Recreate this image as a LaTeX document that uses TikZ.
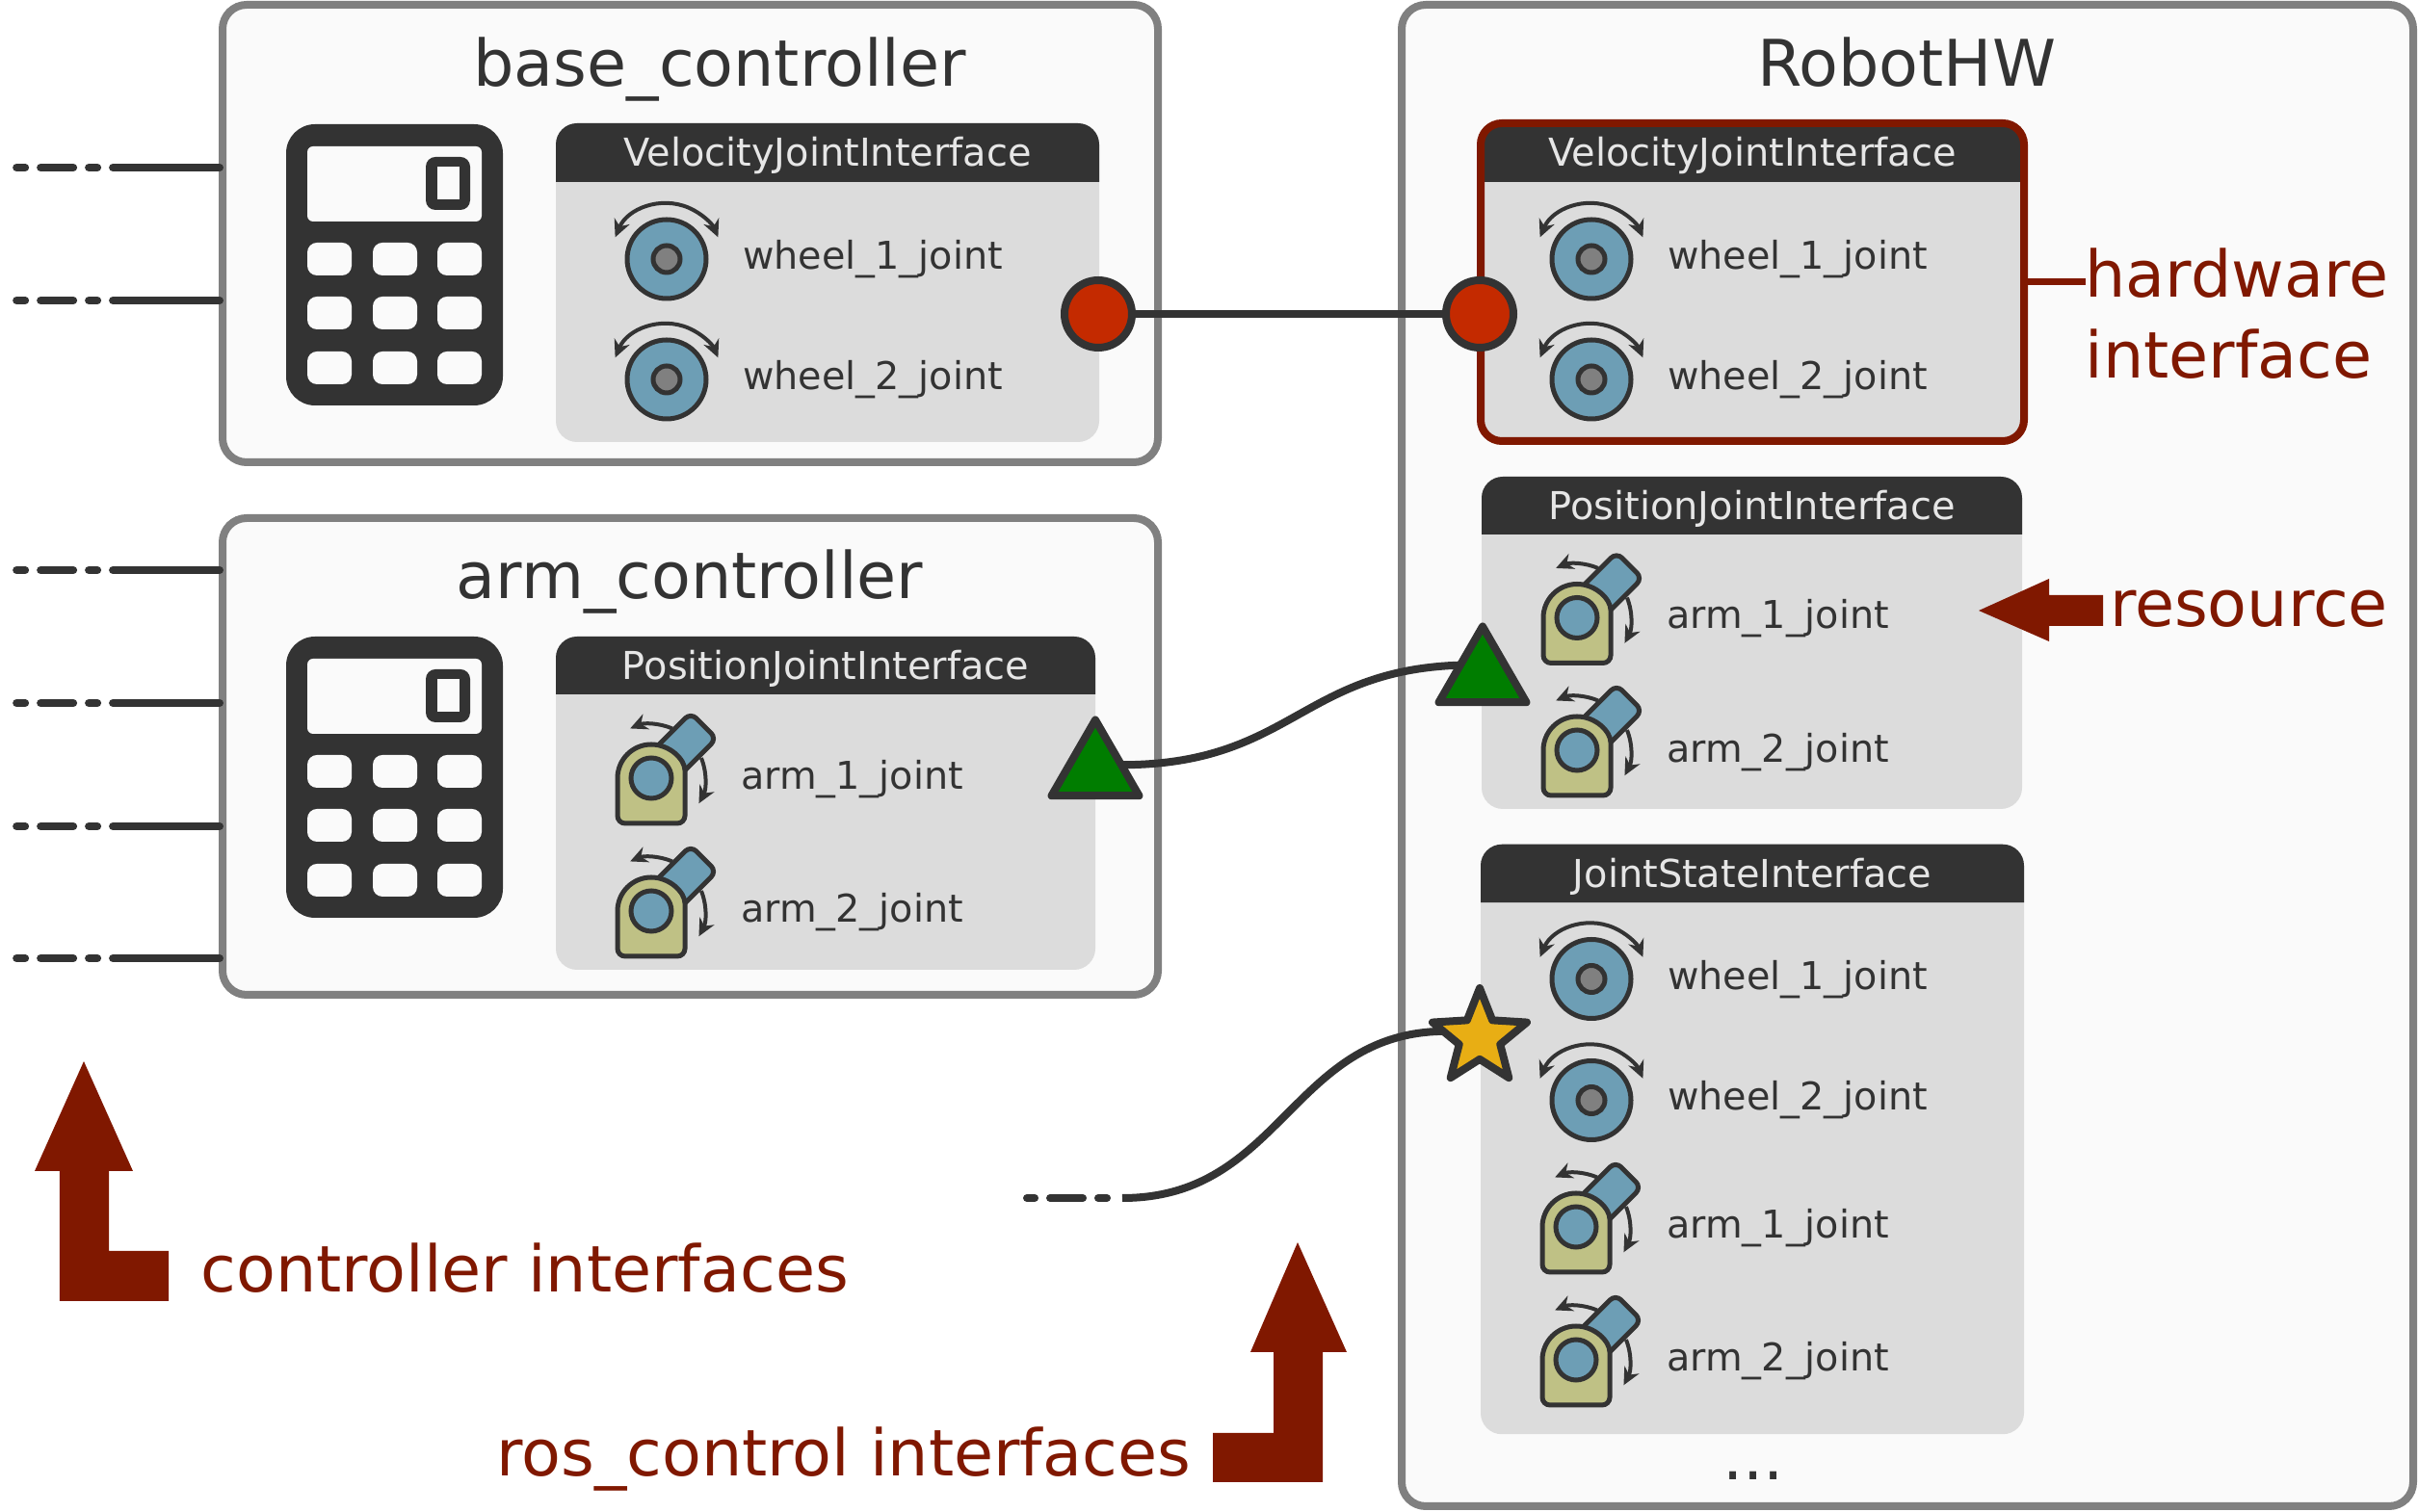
\documentclass[tikz,border=0pt]{standalone}
\usepackage{fontspec}
\setmainfont{DejaVu Sans}
\usetikzlibrary{arrows.meta,calc,shapes.geometric}

\definecolor{darkline}{HTML}{333333}
\definecolor{boxgray}{HTML}{808080}
\definecolor{boxfill}{HTML}{FAFAFA}
\definecolor{panelgray}{HTML}{DCDCDC}
\definecolor{headtext}{HTML}{E6E6E6}
\definecolor{notered}{HTML}{801800}
\definecolor{jointblue}{HTML}{6D9EB5}
\definecolor{armbody}{HTML}{BFC185}
\definecolor{portred}{HTML}{C42A00}
\definecolor{portgreen}{HTML}{007D00}
\definecolor{portyellow}{HTML}{E8AE14}

\tikzset{
  ctrlbox/.style={draw=boxgray, fill=boxfill, line width=.08cm, rounded corners=.25cm, inner sep=0pt, outer sep=0pt},
  ifacepanel/.style={fill=panelgray, rounded corners=.22cm, inner sep=0pt, outer sep=0pt},
  hwframe/.style={draw=notered, line width=.08cm, rounded corners=.22cm, inner sep=0pt, outer sep=0pt},
  boxtitle/.style={anchor=base, text=darkline, font=\fontsize{19}{24}\selectfont},
  headtitle/.style={anchor=base, text=headtext, font=\fontsize{11.35}{14}\selectfont},
  jointlabel/.style={anchor=base west, text=darkline, inner sep=0pt, font=\fontsize{11.3}{14}\selectfont},
  rednote/.style={text=notered, inner sep=0pt, outer sep=0pt, font=\fontsize{19}{23.9}\selectfont},
  porta/.style={circle, draw=darkline, fill=portred, line width=.08cm, minimum size=.70cm, inner sep=0pt, outer sep=0pt},
  portb/.style={regular polygon, regular polygon sides=3, draw=darkline, fill=portgreen, line width=.08cm, line join=round, minimum size=1.05cm, inner sep=0pt, outer sep=0pt},
  portc/.style={star, star points=5, star point ratio=2.3, draw=darkline, fill=portyellow, line width=.08cm, line join=round, minimum size=1.03cm, inner sep=0pt, outer sep=0pt},
  wire/.style={draw=darkline, line width=.08cm},
  stub/.style={draw=darkline, line width=.08cm, line cap=round, dash pattern=on 31.55pt off 4.55pt on 2.56pt off 4.55pt on 9.67pt off 4.55pt on 2.56pt off 200pt},
  jointline/.style={draw=darkline, line width=.05cm},
  moveline/.style={draw=darkline, line width=.04cm, {Stealth[length=.18cm,width=.17cm]}-{Stealth[length=.18cm,width=.17cm]}},
  moveend/.style={draw=darkline, line width=.04cm, -{Stealth[length=.18cm,width=.17cm]}},
  wheeljoint/.pic={
    \draw[jointline, fill=jointblue] (0,0) circle (.41);
    \draw[jointline, fill=boxgray] (0,0) circle (.14);
    \draw[moveline] (157:.58) arc[start angle=157, end angle=23, radius=.58];
  },
  armjoint/.pic={
    \draw[jointline, fill=jointblue, rotate=45, rounded corners=.08cm] (0,-.19) rectangle (.77,.19);
    \draw[jointline, fill=armbody, rounded corners=.08cm] (-.35,0) -- (-.35,-.47) -- (.35,-.47) -- (.35,0) [sharp corners] arc[start angle=0, end angle=180, radius=.35] -- cycle;
    \draw[jointline, fill=jointblue] (0,0) circle (.21);
    \draw[moveend] (67:.56) arc[start angle=67, end angle=113, radius=.56];
    \draw[moveend] (22:.56) arc[start angle=22, end angle=-28, radius=.56];
  },
  calculator/.pic={
    \fill[darkline, rounded corners=.3cm] (0,0) rectangle (2.25,-2.92);
    \fill[boxfill, rounded corners=.06cm] (.22,-.23) rectangle (2.03,-1.01);
    \fill[darkline, rounded corners=.1cm] (1.45,-.34) rectangle (1.91,-.89);
    \fill[boxfill] (1.57,-.44) rectangle (1.80,-.78);
    \foreach \kx in {.22,.90,1.57}
      \foreach \ky in {-1.23,-1.79,-2.36}
        \fill[boxfill, rounded corners=.1cm] (\kx,\ky) rectangle +(.46,-.34);
  },
}

\newcommand{\ifacehead}[4]{%
  \fill[darkline] (#2.west |- {$(#2.north)+(0,-#3)$}) [rounded corners=.22cm] -- (#2.north west) -- (#2.north east) [sharp corners] -- (#2.east |- {$(#2.north)+(0,-#3)$}) -- cycle;
  \node (#1) [headtitle] at ([yshift=-.45cm]#2.north) {#4};
}

\begin{document}
\begin{tikzpicture}
  \useasboundingbox (0,0) rectangle (25.10,15.70);

  % controllers
  \node (base) [ctrlbox, minimum width=9.71cm, minimum height=4.75cm] at (7.165,13.275) {};
  \node (arm) [ctrlbox, minimum width=9.71cm, minimum height=4.95cm] at (7.165,7.845) {};
  \node (robot) [ctrlbox, minimum width=10.50cm, minimum height=15.59cm] at (19.80,7.855) {};

  \node (base title) [boxtitle] at (7.47,14.805) {base\_controller};
  \node (arm title) [boxtitle] at (7.16,9.485) {arm\_controller};
  \node (robot title) [boxtitle] at (19.79,14.805) {RobotHW};

  \pic at (2.97,14.41) {calculator};
  \pic at (2.97,9.09) {calculator};

  % interfaces of the controllers
  \node (base vel) [ifacepanel, minimum width=5.64cm, minimum height=3.31cm] at (8.59,12.765) {};
  \ifacehead{base vel head}{base vel}{.61}{VelocityJointInterface}
  \node (arm pos) [ifacepanel, minimum width=5.60cm, minimum height=3.46cm] at (8.57,7.36) {};
  \ifacehead{arm pos head}{arm pos}{.60}{PositionJointInterface}

  \pic at (6.92,13.01) {wheeljoint};
  \pic at (6.92,11.76) {wheeljoint};
  \node (base w1) [jointlabel] at (7.705,12.905) {wheel\_1\_joint};
  \node (base w2) [jointlabel] at (7.705,11.655) {wheel\_2\_joint};
  \pic at (6.76,7.62) {armjoint};
  \pic at (6.76,6.24) {armjoint};
  \node (arm a1) [jointlabel] at (7.685,7.505) {arm\_1\_joint};
  \node (arm a2) [jointlabel] at (7.685,6.125) {arm\_2\_joint};

  % interfaces of the robot
  \node (hw vel) [ifacepanel, minimum width=5.64cm, minimum height=3.30cm] at (18.19,12.77) {};
  \ifacehead{hw vel head}{hw vel}{.61}{VelocityJointInterface}
  \node (hw frame) [hwframe, minimum width=5.64cm, minimum height=3.30cm] at (18.19,12.77) {};
  \node (hw pos) [ifacepanel, minimum width=5.61cm, minimum height=3.45cm] at (18.185,9.025) {};
  \ifacehead{hw pos head}{hw pos}{.60}{PositionJointInterface}
  \node (hw state) [ifacepanel, minimum width=5.64cm, minimum height=6.125cm] at (18.19,3.87) {};
  \ifacehead{hw state head}{hw state}{.605}{JointStateInterface}

  \pic at (16.52,13.01) {wheeljoint};
  \pic at (16.52,11.76) {wheeljoint};
  \node (vel w1) [jointlabel] at (17.305,12.905) {wheel\_1\_joint};
  \node (vel w2) [jointlabel] at (17.305,11.655) {wheel\_2\_joint};
  \pic at (16.37,9.285) {armjoint};
  \pic at (16.37,7.91) {armjoint};
  \node (pos a1) [jointlabel] at (17.295,9.175) {arm\_1\_joint};
  \node (pos a2) [jointlabel] at (17.295,7.785) {arm\_2\_joint};
  \pic at (16.52,5.535) {wheeljoint};
  \pic at (16.52,4.275) {wheeljoint};
  \node (state w1) [jointlabel] at (17.305,5.425) {wheel\_1\_joint};
  \node (state w2) [jointlabel] at (17.305,4.175) {wheel\_2\_joint};
  \pic at (16.36,2.96) {armjoint};
  \pic at (16.36,1.58) {armjoint};
  \node (state a1) [jointlabel] at (17.295,2.845) {arm\_1\_joint};
  \node (state a2) [jointlabel] at (17.295,1.465) {arm\_2\_joint};
  \node (state more) [boxtitle] at (18.20,.33) {...};

  % connections
  \node (base port) [porta] at (11.40,12.44) {};
  \node (vel port) [porta] at (15.36,12.44) {};
  \node (arm port) [portb] at (11.37,7.70) {};
  \node (pos port) [portb] at (15.39,8.67) {};
  \node (state port) [portc] at (15.36,4.925) {};

  \coordinate (jfree) at (11.65,3.26);
  \coordinate (jfree end) at (10.66,3.26);

  \draw[wire] (base port.east) -- (vel port.west);
  \draw[wire] (arm port.12) .. controls (13.40,7.76) and (13.50,8.74) .. (pos port.152);
  \draw[wire] (jfree) .. controls (13.30,3.26) and (13.40,4.97) .. (state port.170);
  \draw[stub, dash phase=31.55pt] (jfree) -- (jfree end);

  \coordinate (in1) at (.17,13.96);
  \coordinate (in2) at (.17,12.58);
  \coordinate (in3) at (.17,9.78);
  \coordinate (in4) at (.17,8.40);
  \coordinate (in5) at (.17,7.12);
  \coordinate (in6) at (.17,5.75);
  \draw[stub] ([xshift=-.03cm]base.west |- in1) -- (in1);
  \draw[stub] ([xshift=-.03cm]base.west |- in2) -- (in2);
  \draw[stub] ([xshift=-.03cm]arm.west |- in3) -- (in3);
  \draw[stub] ([xshift=-.03cm]arm.west |- in4) -- (in4);
  \draw[stub] ([xshift=-.03cm]arm.west |- in5) -- (in5);
  \draw[stub] ([xshift=-.03cm]arm.west |- in6) -- (in6);

  % notes
  \node (hw note) [rednote, align=left, anchor=west] at (21.645,12.44) {hardware\\interface};
  \coordinate (hw tap) at ([yshift=.33cm]hw note.west);
  \draw[draw=notered, line width=.07cm] (hw frame.east |- hw tap) -- (hw tap);

  \node (res note) [rednote, anchor=base west] at (21.90,9.19) {resource};
  \fill[notered] (20.54,9.36) -- (21.27,9.69) -- (21.27,9.52) -- (21.83,9.52) -- (21.83,9.20) -- (21.27,9.20) -- (21.27,9.04) -- cycle;

  \node (ctrl note) [rednote, anchor=base west] at (2.085,2.28) {controller interfaces};
  \fill[notered] (.87,4.68) -- (1.38,3.54) -- (1.13,3.54) -- (1.13,2.71) -- (1.75,2.71) -- (1.75,2.19) -- (.62,2.19) -- (.62,3.54) -- (.36,3.54) -- cycle;

  \node (ros note) [rednote, anchor=base east] at (12.36,.37) {ros\_control interfaces};
  \fill[notered] (13.47,2.80) -- (13.98,1.66) -- (13.73,1.66) -- (13.73,.31) -- (12.59,.31) -- (12.59,.82) -- (13.22,.82) -- (13.22,1.66) -- (12.98,1.66) -- cycle;

\end{tikzpicture}
\end{document}
